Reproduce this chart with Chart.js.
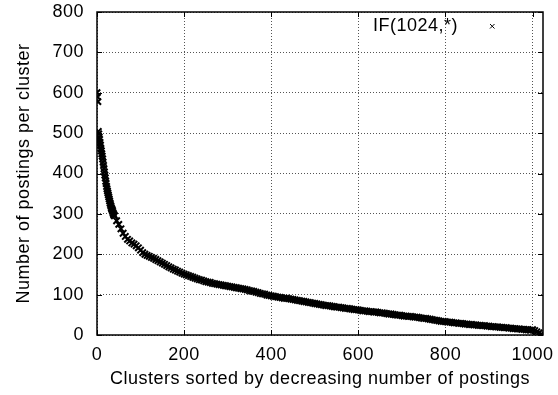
<!DOCTYPE html>
<html>
<head>
<meta charset="utf-8">
<script src="https://cdn.jsdelivr.net/npm/chart.js@4.4.1/dist/chart.umd.min.js"></script>
<style>
  html, body { margin: 0; padding: 0; background: #fff; }
  #wrap { width: 558px; height: 395px; }
</style>
</head>
<body>
<div id="wrap"><canvas id="grafico"></canvas></div>
<script>
//DATOS
const seriesLabel = "IF(1024,*)";
const xTitle = "Clusters sorted by decreasing number of postings";
const yTitle = "Number of postings per cluster";
const xTicks = [0, 200, 400, 600, 800, 1000];
const yTicks = [0, 100, 200, 300, 400, 500, 600, 700, 800];

// first clusters, one by one
const headIds = [0, 1, 2, 3, 4, 5, 6, 7, 8, 9, 10, 11, 12, 13, 14, 15, 16, 17, 18, 19,
  20, 21, 22, 23, 24, 25, 26, 27, 28, 29, 30, 31, 32, 33, 34, 35, 36, 37, 38, 39];
const headPostings = [600, 590, 578, 504, 498, 490, 484, 477, 470, 462, 456, 449, 443, 436, 428, 420, 412, 404, 396, 389,
  381, 375, 368, 362, 357, 352, 347, 342, 337, 332, 327, 323, 319, 315, 312, 309, 306, 302, 299, 297];

// rest of the clusters, read every 5 clusters starting at 40
const bodyStart = 40;
const bodyStep = 5;
const bodyPostings = [
  295, 283, 274, 263, 252, 244, 237, 233, 228, 225, 221, 216,
  210, 204, 200, 197, 195, 192, 190, 187, 184, 181, 178, 175, 172, 169, 166, 163, 161, 158, 156, 153,
  151, 149, 147, 145, 143, 141, 139, 137, 136, 134, 132, 131, 130, 128, 127, 126, 125, 124, 123, 122,
  121, 120, 119, 118, 117, 116, 115, 114, 113, 112, 110, 109, 108, 106, 105, 103, 102, 101, 99, 98,
  97, 96, 95, 94, 93, 92, 91, 91, 90, 89, 88, 87, 86, 85, 84, 83, 82, 81, 80, 79,
  78, 77, 76, 75, 74, 73, 73, 72, 71, 70, 69, 69, 68, 67, 66, 66, 65, 64, 63, 63,
  62, 61, 60, 60, 59, 58, 58, 57, 57, 56, 55, 55, 54, 53, 52, 52, 51, 50, 49, 49,
  48, 47, 47, 46, 46, 45, 44, 44, 43, 42, 41, 41, 40, 39, 38, 37, 36, 35, 34, 34,
  33, 32, 32, 31, 30, 30, 29, 29, 28, 27, 27, 26, 26, 25, 25, 24, 24, 23, 23, 22,
  22, 21, 21, 20, 20, 19, 19, 18, 18, 17, 17, 16, 16, 15, 15, 14, 14, 13, 13, 12,
  13, 11, 8, 5, 2
];

const FUENTE = "'Liberation Sans', Arial, Helvetica, sans-serif";
const TAM = 18;
const ESPACIADO = "0.5px";

let puntos = [];
headIds.forEach((id, i) => {
  puntos.push({ x: id, y: headPostings[i] });
});
bodyPostings.forEach((v, i) => {
  puntos.push({ x: bodyStart + i * bodyStep, y: v });
});

//PLUGIN: marco, ticks hacia adentro y leyenda
const marcoPlugin = {
  id: "marco",
  beforeDraw(chart) {
    chart.ctx.letterSpacing = ESPACIADO;
  },
  afterDraw(chart) {
    const ctx = chart.ctx;
    const area = chart.chartArea;
    const sx = chart.scales.x;
    const sy = chart.scales.y;
    ctx.save();
    ctx.strokeStyle = "#000";
    ctx.lineWidth = 1;
    ctx.beginPath();
    xTicks.forEach((t) => {
      const px = Math.round(sx.getPixelForValue(t)) + 0.5;
      ctx.moveTo(px, area.bottom);
      ctx.lineTo(px, area.bottom - 5);
      ctx.moveTo(px, area.top);
      ctx.lineTo(px, area.top + 5);
    });
    yTicks.forEach((t) => {
      const py = Math.round(sy.getPixelForValue(t)) + 0.5;
      ctx.moveTo(area.left, py);
      ctx.lineTo(area.left + 5, py);
      ctx.moveTo(area.right, py);
      ctx.lineTo(area.right - 5, py);
    });
    ctx.stroke();
    ctx.lineWidth = 1.5;
    ctx.strokeRect(area.left, area.top, area.right - area.left, area.bottom - area.top);

    // leyenda
    ctx.letterSpacing = ESPACIADO;
    ctx.fillStyle = "#000";
    ctx.font = TAM + "px " + FUENTE;
    ctx.textAlign = "right";
    ctx.textBaseline = "middle";
    ctx.fillText(seriesLabel, 458, 26);
    ctx.lineWidth = 1;
    ctx.beginPath();
    ctx.moveTo(490, 24);
    ctx.lineTo(494.5, 28.5);
    ctx.moveTo(494.5, 24);
    ctx.lineTo(490, 28.5);
    ctx.stroke();
    ctx.restore();
  },
};

//CREAR CHART
function crearChart(ctx) {
  new Chart(ctx, {
    type: "scatter",
    data: {
      datasets: [
        {
          label: seriesLabel,
          data: puntos,
          pointStyle: "crossRot",
          pointRadius: 4.5,
          pointHoverRadius: 4.5,
          borderColor: "#000",
          backgroundColor: "#000",
          borderWidth: 2,
          showLine: false,
        },
      ],
    },
    options: {
      responsive: true,
      maintainAspectRatio: false,
      animation: false,
      events: [],
      layout: { padding: { top: 12, right: 15, left: 0, bottom: 0 } },
      plugins: {
        legend: { display: false },
        tooltip: { enabled: false },
      },
      scales: {
        x: {
          type: "linear",
          min: 0,
          max: 1024,
          afterFit: (s) => {
            s.height = 60;
            s.paddingLeft = 0;
            s.paddingRight = 0;
          },
          afterBuildTicks: (s) => { s.ticks = xTicks.map((v) => ({ value: v })); },
          ticks: {
            color: "#000",
            font: { family: FUENTE, size: TAM },
            padding: 9,
            maxRotation: 0,
            autoSkip: false,
            callback: (v) => String(v),
          },
          grid: {
            color: "#555",
            lineWidth: 1,
            drawTicks: false,
          },
          border: { display: false, dash: [1, 2] },
          title: {
            display: true,
            text: xTitle,
            color: "#000",
            font: { family: FUENTE, size: TAM },
            padding: { top: 0, bottom: 5 },
          },
        },
        y: {
          type: "linear",
          min: 0,
          max: 800,
          afterFit: (s) => {
            s.width = 97;
            s.paddingTop = 0;
            s.paddingBottom = 0;
          },
          afterBuildTicks: (s) => { s.ticks = yTicks.map((v) => ({ value: v })); },
          ticks: {
            color: "#000",
            font: { family: FUENTE, size: TAM },
            padding: 13,
            autoSkip: false,
            callback: (v) => String(v),
          },
          grid: {
            color: "#555",
            lineWidth: 1,
            drawTicks: false,
          },
          border: { display: false, dash: [1, 2] },
          title: {
            display: true,
            text: yTitle,
            color: "#000",
            font: { family: FUENTE, size: TAM },
            padding: { top: 13, bottom: 0 },
          },
        },
      },
    },
    plugins: [marcoPlugin],
  });
}

crearChart(document.getElementById("grafico"));
</script>
</body>
</html>
